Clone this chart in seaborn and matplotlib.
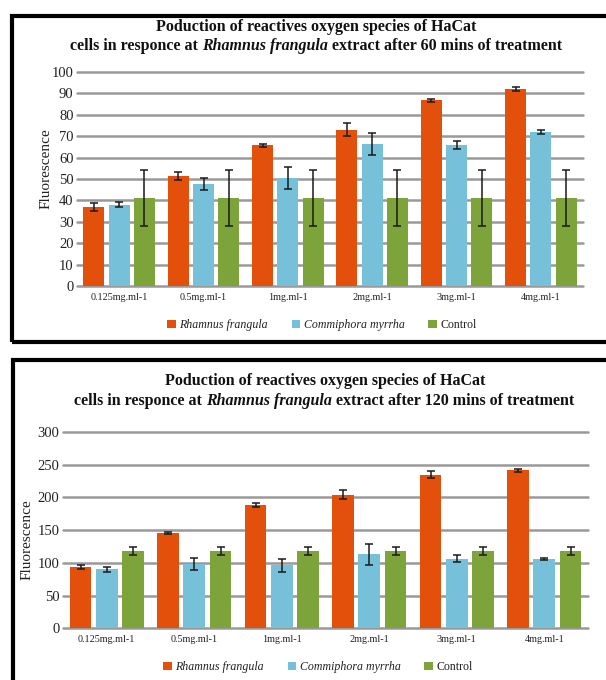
import numpy as np
import pandas as pd
import matplotlib
matplotlib.use("Agg")
import matplotlib.pyplot as plt
import seaborn as sns
from matplotlib.patches import Rectangle

# ---- data -------------------------------------------------------------
doses = ["0.125mg.ml-1", "0.5mg.ml-1", "1mg.ml-1", "2mg.ml-1", "3mg.ml-1", "4mg.ml-1"]
series = ["Rhamnus frangula", "Commiphora myrrha", "Control"]

# 60 minutes of treatment
rf_60 = [37, 51.5, 65.7, 73, 86.8, 92]
rf_60_err = [2, 2, 0.8, 3, 0.6, 1]
cm_60 = [38, 47.7, 50.5, 66.3, 65.8, 71.8]
cm_60_err = [1.2, 3, 5, 5.2, 2, 1]
ctl_60 = [41, 41, 41, 41, 41, 41]
ctl_60_err = [13, 13, 13, 13, 13, 13]

# 120 minutes of treatment
rf_120 = [94, 145, 188.5, 204, 235, 241.5]
rf_120_err = [3, 1.5, 3.5, 7, 5, 2]
cm_120 = [90, 98.5, 96.5, 113, 106.5, 106.5]
cm_120_err = [4, 9, 10, 15.5, 5, 1.5]
ctl_120 = [118, 118, 118, 118, 118, 118]
ctl_120_err = [6.5, 6.5, 6.5, 6.5, 6.5, 6.5]

colors = ["#E2500C", "#76C0DA", "#7DA43A"]

# ---- style ------------------------------------------------------------
sns.set_style("white")
plt.rcParams["font.family"] = ["Liberation Serif", "DejaVu Serif"]

W, H = 606, 680
fig = plt.figure(figsize=(W / 100, H / 100), dpi=100)
fig.patch.set_facecolor("white")


def fx(px):
    return px / W


def fy(py):
    return 1 - py / H


def draw_panel(ax, values, errors, ymax, ystep):
    rows = []
    for s, vals in zip(series, values):
        for d, v in zip(doses, vals):
            rows.append({"dose": d, "series": s, "value": v})
    df = pd.DataFrame(rows)
    sns.barplot(data=df, x="dose", y="value", hue="series", hue_order=series,
                order=doses, palette=colors, saturation=1, width=0.9, gap=0.17,
                errorbar=None, linewidth=0, ax=ax, zorder=2)
    for cont, vals, errs in zip(ax.containers, values, errors):
        centers = [b.get_x() + b.get_width() / 2 for b in cont]
        ax.errorbar(centers, vals, yerr=errs, fmt="none", ecolor="#1a1a1a",
                    elinewidth=1.1, capsize=2.8, capthick=1.1, zorder=3)
    handles, labels = ax.get_legend_handles_labels()
    if ax.get_legend() is not None:
        ax.get_legend().remove()
    ax.set_ylim(0, ymax)
    ax.set_xlim(-0.5, len(doses) - 0.5)
    ax.set_yticks(np.arange(0, ymax + 1, ystep))
    ax.yaxis.grid(True, color="#999999", linewidth=1.8)
    for gl in ax.get_ygridlines():
        gl.set_clip_on(False)
    ax.set_axisbelow(True)
    for sp in ax.spines.values():
        sp.set_visible(False)
    ax.tick_params(axis="y", length=2, width=1.8, color="#999999", pad=0.5,
                   labelsize=10.5, labelcolor="#222222")
    ax.tick_params(axis="x", length=0, pad=5, labelsize=7.3, labelcolor="#222222")
    ax.set_xlabel("")
    ax.set_ylabel("Fluorescence", fontsize=11, color="#222222")
    return handles, labels


def title_line(y_px, cx_px, parts, size):
    renderer = fig.canvas.get_renderer()
    probe_a = fig.text(0, 0, "x x", fontsize=size, fontweight="bold")
    probe_b = fig.text(0, 0, "xx", fontsize=size, fontweight="bold")
    space = (probe_a.get_window_extent(renderer).width
             - probe_b.get_window_extent(renderer).width)
    probe_a.remove()
    probe_b.remove()
    texts = []
    for s, style in parts:
        t = fig.text(0, fy(y_px), s, fontsize=size, fontweight="bold",
                     fontstyle=style, va="center", ha="left", color="#111111")
        texts.append(t)
    widths = [t.get_window_extent(renderer).width for t in texts]
    total = sum(widths) + space * (len(texts) - 1)
    x = cx_px - total / 2
    for t, w in zip(texts, widths):
        t.set_x(fx(x))
        x += w + space


def legend(handles, labels, cx_px, cy_px):
    leg = fig.legend(handles, labels, loc="center",
                     bbox_to_anchor=(fx(cx_px), fy(cy_px)), ncol=3,
                     frameon=False, handlelength=0.7, handleheight=0.7,
                     handletextpad=0.3, columnspacing=2.0, fontsize=8.6)
    for t in leg.get_texts()[:2]:
        t.set_fontstyle("italic")
    for t in leg.get_texts():
        t.set_color("#222222")


# ---- frames -----------------------------------------------------------
fig.add_artist(Rectangle((fx(12), fy(341.5)), fx(620) - fx(12), fy(15.5) - fy(341.5),
                         transform=fig.transFigure, fill=False, edgecolor="black",
                         linewidth=3, clip_on=False))
fig.add_artist(Rectangle((fx(13), fy(700)), fx(620) - fx(13), fy(360.5) - fy(700),
                         transform=fig.transFigure, fill=False, edgecolor="black",
                         linewidth=3, clip_on=False))

# ---- top panel: 60 minutes -------------------------------------------
ax1 = fig.add_axes([fx(77), fy(286), fx(583) - fx(77), fy(72) - fy(286)])
h, l = draw_panel(ax1, [rf_60, cm_60, ctl_60], [rf_60_err, cm_60_err, ctl_60_err], 100, 10)
ax1.yaxis.set_label_coords(-0.049, 0.547)
title_line(27, 316, [("Poduction of reactives oxygen species of HaCat", "normal")], 11.5)
title_line(46, 316, [("cells in responce at", "normal"), ("Rhamnus frangula", "italic"),
                     ("extract after 60 mins of treatment", "normal")], 11.5)
legend(h, l, 322, 325)

# ---- bottom panel: 120 minutes ---------------------------------------
ax2 = fig.add_axes([fx(63), fy(628.3), fx(588) - fx(63), fy(432) - fy(628.3)])
h, l = draw_panel(ax2, [rf_120, cm_120, ctl_120], [rf_120_err, cm_120_err, ctl_120_err], 300, 50)
ax2.yaxis.set_label_coords(-0.057, 0.45)
title_line(381, 325, [("Poduction of reactives oxygen species of HaCat", "normal")], 11.5)
title_line(401, 324, [("cells in responce at", "normal"), ("Rhamnus frangula", "italic"),
                      ("extract after 120 mins of treatment", "normal")], 11.5)
legend(h, l, 318, 667)

fig.savefig("out.png", dpi=100, facecolor="white")
